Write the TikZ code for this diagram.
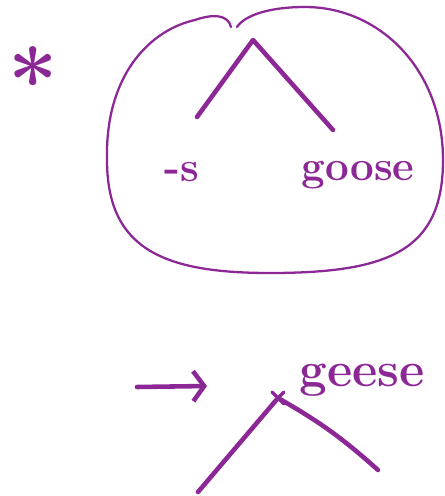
\documentclass[tikz,border=0pt]{standalone}
\usepackage{tikz}
\usetikzlibrary{positioning,arrows.meta}
\definecolor{ink}{RGB}{140,40,150}

\begin{document}
\begin{tikzpicture}[
  x=0.02cm, y=-0.02cm,
  pen/.style={draw=ink, line width=2.6pt, line cap=round, line join=round},
  thinpen/.style={draw=ink, line width=1.3pt, line cap=round},
  word/.style={text=ink, font=\bfseries\fontsize{24}{26}\selectfont, inner sep=0pt},
  arrow/.style={pen, -{Straight Barb[length=2.2mm, width=6mm, line width=2.6pt]}}
]
\useasboundingbox (0,0) rectangle (445,496);
\node[text=ink, font=\bfseries\fontsize{50}{50}\selectfont, inner sep=0pt] (star) at (33,80) {*};
\draw[thinpen] (231,27) .. controls (228,14) and (212,14) .. (195,20)
  .. controls (150,30) and (105,75) .. (107,160)
  .. controls (107,250) and (165,273) .. (270,273)
  .. controls (390,273) and (443,250) .. (443,160)
  .. controls (443,70) and (380,7) .. (305,7)
  .. controls (270,7) and (245,15) .. (237,27);
\coordinate (top) at (253,40);
\node[word] (suffix) at (182,172) {-s};
\node[word] (goose) at (358,175) {goose};
\coordinate (leftleg) at (197,117);
\coordinate (rightleg) at (333,130);
\draw[pen] (leftleg) -- (top) -- (rightleg);
\coordinate (arrstart) at (137,387);
\coordinate (arrend) at (207,386);
\draw[arrow] (arrstart) -- (arrend);
\coordinate (root) at (278,398);
\node[word, font=\bfseries\fontsize{28}{30}\selectfont] (geese) at (362,380) {geese};
\coordinate (bottomleft) at (198,492);
\coordinate (bottomright) at (378,470);
\draw[pen] (bottomleft) -- (root) to[bend left=6] (bottomright);
\draw[pen, line width=2pt] ([shift={(-6,-6)}]root) -- ([shift={(6,6)}]root)
  ([shift={(-6,6)}]root) -- ([shift={(6,-6)}]root);
\end{tikzpicture}
\end{document}
